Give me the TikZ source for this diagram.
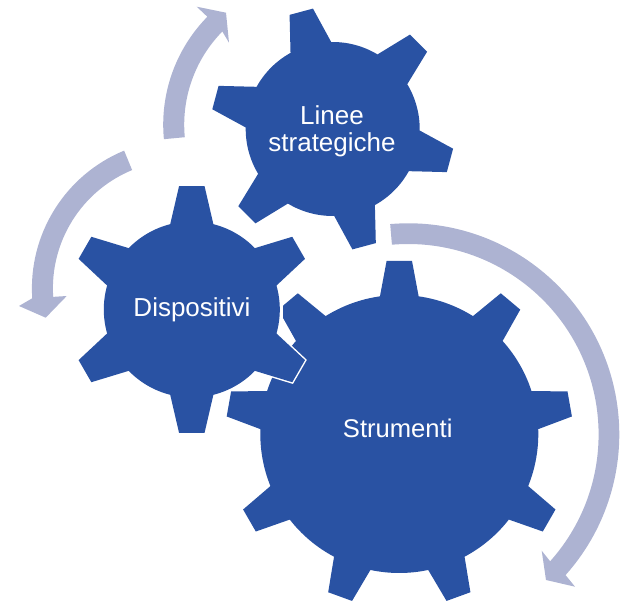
\documentclass[tikz,border=0pt]{standalone}
\usepackage{fontspec}
\setmainfont{Liberation Sans}
\definecolor{gearblue}{RGB}{41,82,163}
\definecolor{bandblue}{RGB}{173,179,210}
\tikzset{
  gearfill/.style={fill=gearblue},
  bandfill/.style={fill=bandblue},
  gearoutline/.style={preaction={draw=white,line width=2.2pt,line join=miter,miter limit=10}},
  geartext/.style={text=white,inner sep=0pt,align=center,font=\fontsize{19.5pt}{20pt}\selectfont},
  bigtext/.style={text=white,inner sep=0pt,font=\fontsize{19.2pt}{20pt}\selectfont}
}
% #1 centre, #2 teeth, #3 first tooth angle, #4 body radius, #5 tip radius, #6 base half angle, #7 tip half angle
\newcommand{\gearoutlinepath}[7]{%
  [shift={(#1)}] ({#3+#6}:#4)
  \foreach \gi in {1,...,#2}{
    -- ({#3-(\gi-1)*360/#2+#6}:#4)
    -- ({#3-(\gi-1)*360/#2+#7}:#5)
    -- ({#3-(\gi-1)*360/#2-#7}:#5)
    -- ({#3-(\gi-1)*360/#2-#6}:#4)
    arc[start angle={#3-(\gi-1)*360/#2-#6},end angle={#3-\gi*360/#2+#6},radius=#4]
  } -- cycle
}
% #1 cx, #2 cy, #3 outer R, #4 inner R, #5 start, #6 end, #7 outer wing, #8 tip, #9 inner wing
\newcommand{\bandarrow}[9]{%
  \fill[bandfill] ({#1+#3*cos(#5)},{#2+#3*sin(#5)})
    arc[start angle=#5,end angle=#6,radius=#3]
    -- (#7) -- (#8) -- (#9)
    -- ({#1+#4*cos(#6)},{#2+#4*sin(#6)})
    arc[start angle=#6,end angle=#5,radius=#4] -- cycle;
}
\begin{document}
\begin{tikzpicture}[x=0.75pt,y=0.75pt]
\useasboundingbox (0,0) rectangle (625,603);
% arrows
\bandarrow{408.2}{168.6}{211.1}{190.4}{94.9}{-41.8}{575,16.3}{546,23}{541.7,52.3}
\bandarrow{317.2}{478.3}{154}{133}{185.4}{135.5}{196.7,596.3}{226,590.3}{229,560.3}
\bandarrow{180.9}{314.6}{149}{128}{112.4}{183.8}{19,297}{45.7,285.3}{66.7,307}
% gears
\path[gearfill] \gearoutlinepath{332.7,474}{6}{105}{87}{122}{14}{5.7};
\path[gearfill] \gearoutlinepath{399.3,169}{9}{90}{139}{173.5}{8}{4.2};
\fill[white] (274,283) rectangle (283.3,300);
\path[gearfill,gearoutline] \gearoutlinepath{191.8,293.5}{6}{90}{88}{124}{14.2}{5.9};
% labels
\node[geartext] (linee) at (332,471.5) {Linee\\strategiche};
\node[geartext,anchor=base] (disp) at (192,286.3) {Dispositivi};
\node[bigtext,anchor=base] (strum) at (397.7,165.3) {Strumenti};
\end{tikzpicture}
\end{document}
